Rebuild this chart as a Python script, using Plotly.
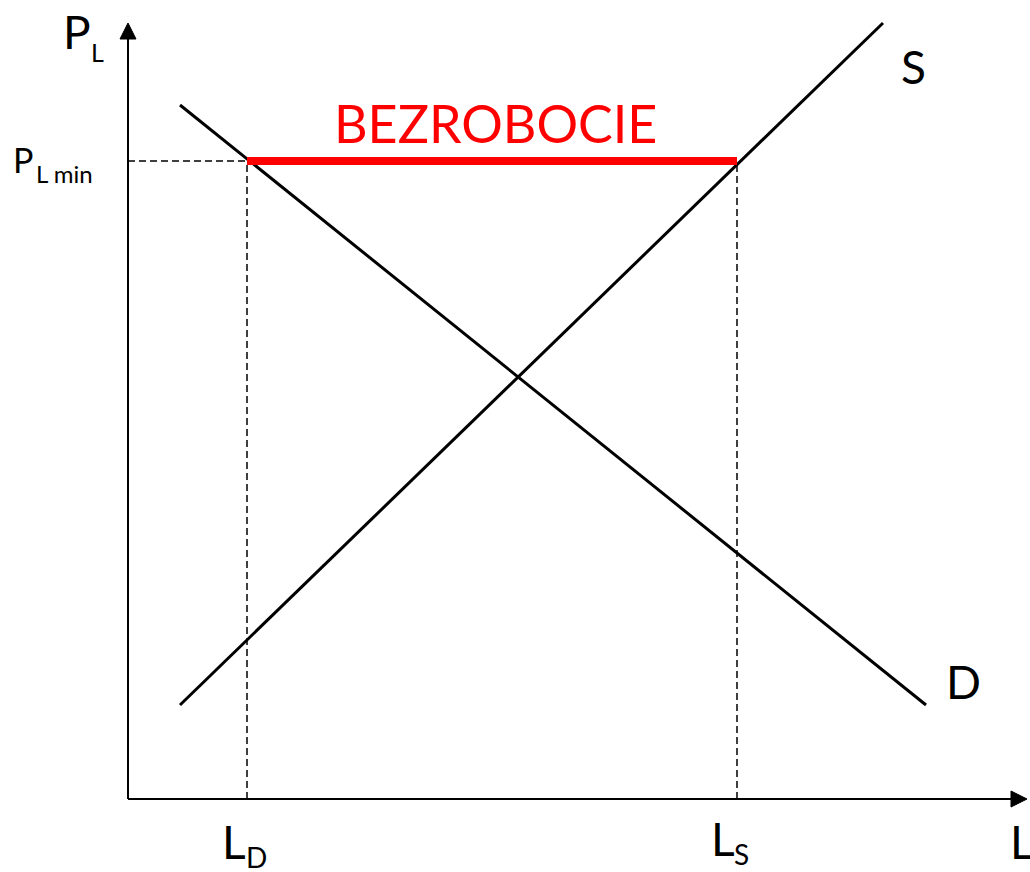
import plotly.graph_objects as go

# ---- data (origin of the diagram = intersection of the axes) ----
demand_x = [52, 798]
demand_y = [694, 94]
supply_x = [52, 755]
supply_y = [94, 776]
L_D = 119          # quantity of labour demanded at the minimum wage
L_S = 609          # quantity of labour supplied at the minimum wage
P_MIN = 638        # minimum wage level
AXIS_X_END = 899
AXIS_Y_END = 776

FONT = "Lato"
BLACK = "#000000"
RED = "#FF0000"

fig = go.Figure()

# axes lines
fig.add_trace(go.Scatter(x=[0, AXIS_X_END - 15], y=[0, 0], mode="lines",
                         line=dict(color=BLACK, width=2), hoverinfo="skip"))
fig.add_trace(go.Scatter(x=[0, 0], y=[0, AXIS_Y_END - 15], mode="lines",
                         line=dict(color=BLACK, width=2), hoverinfo="skip"))

# dashed guide lines
for gx, gy in (([0, L_D], [P_MIN, P_MIN]), ([L_D, L_D], [0, P_MIN]), ([L_S, L_S], [0, P_MIN])):
    fig.add_trace(go.Scatter(x=gx, y=gy, mode="lines",
                             line=dict(color=BLACK, width=1.5, dash="7px,4px"), hoverinfo="skip"))

# demand and supply curves
fig.add_trace(go.Scatter(x=demand_x, y=demand_y, mode="lines",
                         line=dict(color=BLACK, width=3), hoverinfo="skip"))
fig.add_trace(go.Scatter(x=supply_x, y=supply_y, mode="lines",
                         line=dict(color=BLACK, width=3), hoverinfo="skip"))

# unemployment gap (red)
fig.add_trace(go.Scatter(x=[L_D, L_S], y=[P_MIN, P_MIN], mode="lines",
                         line=dict(color=RED, width=8), hoverinfo="skip"))

# arrowheads
shapes = [
    dict(type="path", xref="x", yref="y", layer="above",
         path=f"M {AXIS_X_END - 16},-8 L {AXIS_X_END},0 L {AXIS_X_END - 16},8 Z",
         fillcolor=BLACK, line=dict(color=BLACK, width=1)),
    dict(type="path", xref="x", yref="y", layer="above",
         path=f"M -8,{AXIS_Y_END - 16} L 0,{AXIS_Y_END} L 8,{AXIS_Y_END - 16} Z",
         fillcolor=BLACK, line=dict(color=BLACK, width=1)),
]


def label(text, x, y, size, color=BLACK, xanchor="left"):
    return dict(text=text, x=x, y=y, xref="x", yref="y", showarrow=False,
                xanchor=xanchor, yanchor="middle", borderpad=0,
                font=dict(family=FONT, size=size, color=color))


BIG = 46
SUB = 28
annotations = [
    label("P", -66, 768, BIG),
    label("L", -38, 747.5, 25),
    label("P", -116, 640, 34),
    label("L min", -93, 625.5, 24),
    label("BEZROBOCIE", 367, 676, 52, color=RED, xanchor="center"),
    label("S", 772, 733, BIG),
    label("D", 817, 118, BIG),
    label("L", 93, -42, BIG),
    label("D", 117, -58, SUB),
    label("L", 582, -39, BIG),
    label("S", 605, -55, SUB),
    label("L", 881, -42, BIG),
]

fig.update_layout(
    width=1030, height=872,
    margin=dict(l=0, r=0, t=0, b=0),
    paper_bgcolor="white", plot_bgcolor="white",
    showlegend=False,
    xaxis=dict(range=[-128, 902], visible=False, fixedrange=True),
    yaxis=dict(range=[-73, 799], visible=False, fixedrange=True),
    shapes=shapes,
    annotations=annotations,
)

fig.write_html("out.html", config={"displayModeBar": False},
               post_script="document.body.style.margin='0';document.body.style.overflow='hidden';")
